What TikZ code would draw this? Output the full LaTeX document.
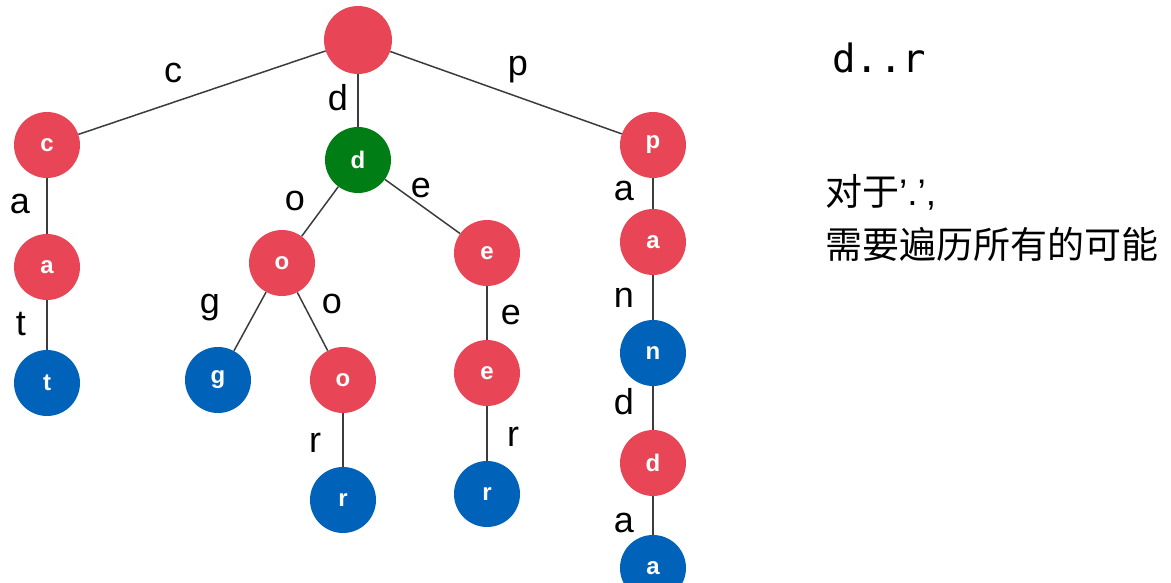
\documentclass[tikz,border=0pt]{standalone}
\usepackage{fontspec}
\setmainfont{Liberation Sans}
\newfontfamily\monof{DejaVu Sans Mono}
\newfontfamily\cjk{Noto Sans CJK SC}
\definecolor{nred}{RGB}{232,70,86}
\definecolor{nblue}{RGB}{0,98,184}
\definecolor{ngreen}{RGB}{0,125,20}
\definecolor{eline}{RGB}{60,60,60}
\begin{document}
\begin{tikzpicture}[x=1pt,y=-1pt,
  tn/.style={circle,minimum size=66pt,inner sep=0pt,text=white,font=\fontsize{24}{26}\selectfont\bfseries},
  rn/.style={tn,fill=nred},
  bn/.style={tn,fill=nblue},
  gn/.style={tn,fill=ngreen},
  lab/.style={inner sep=0pt,font=\fontsize{36}{40}\selectfont},
  edge/.style={draw=eline,line width=1.5pt}]
\useasboundingbox (0,0) rectangle (1171,583);
% nodes
\node[rn,minimum size=68pt] (root) at (358,40) {};
\node[rn] (c) at (47,145) {c};
\node[gn] (d) at (358,160) {d};
\node[rn] (p) at (653,145) {p};
\node[rn] (ca) at (47,267) {a};
\node[bn] (cat) at (47,383) {t};
\node[rn] (do) at (282,263) {o};
\node[rn] (de) at (487,253) {e};
\node[bn] (dog) at (218,380) {g};
\node[rn] (doo) at (343,380) {o};
\node[bn] (door) at (343,500) {r};
\node[rn] (dee) at (487,373) {e};
\node[bn] (deer) at (487,494) {r};
\node[rn] (pa) at (653,242) {a};
\node[bn] (pan) at (653,353) {n};
\node[rn] (pand) at (653,463) {d};
\node[bn] (panda) at (653,568) {a};
% edges
\path[edge] (root) -- (c);
\path[edge] (root) -- (d);
\path[edge] (root) -- (p);
\path[edge] (c) -- (ca);
\path[edge] (ca) -- (cat);
\path[edge] (d) -- (do);
\path[edge] (d) -- (de);
\path[edge] (do) -- (dog);
\path[edge] (do) -- (doo);
\path[edge] (doo) -- (door);
\path[edge] (de) -- (dee);
\path[edge] (dee) -- (deer);
\path[edge] (p) -- (pa);
\path[edge] (pa) -- (pan);
\path[edge] (pan) -- (pand);
\path[edge] (pand) -- (panda);
% edge labels
\node[lab] (lc) at (173,73) {c};
\node[lab] (ld) at (338,98) {d};
\node[lab] (lp) at (518,70) {p};
\node[lab] (la1) at (20,204) {a};
\node[lab] (lt) at (21,324) {t};
\node[lab] (lo1) at (295,201) {o};
\node[lab] (le1) at (421,188) {e};
\node[lab] (lg) at (210,308) {g};
\node[lab] (lo2) at (332,304) {o};
\node[lab] (lr1) at (315,443) {r};
\node[lab] (le2) at (511,315) {e};
\node[lab] (lr2) at (513,437) {r};
\node[lab] (la2) at (624,191) {a};
\node[lab] (ln) at (624,298) {n};
\node[lab] (ld2) at (624,402) {d};
\node[lab] (la3) at (624,523) {a};
% right texts
\node[anchor=west,inner sep=0pt,font=\monof\fontsize{39}{42}\selectfont] (q) at (832,58) {d..r};
\node[anchor=west,inner sep=0pt,font=\fontsize{37}{40}\selectfont] (t1) at (825,192) {{\cjk 对于}’.’,};
\node[anchor=west,inner sep=0pt,font=\cjk\fontsize{37}{40}\selectfont] (t2) at (825,244) {需要遍历所有的可能};
\end{tikzpicture}
\end{document}
